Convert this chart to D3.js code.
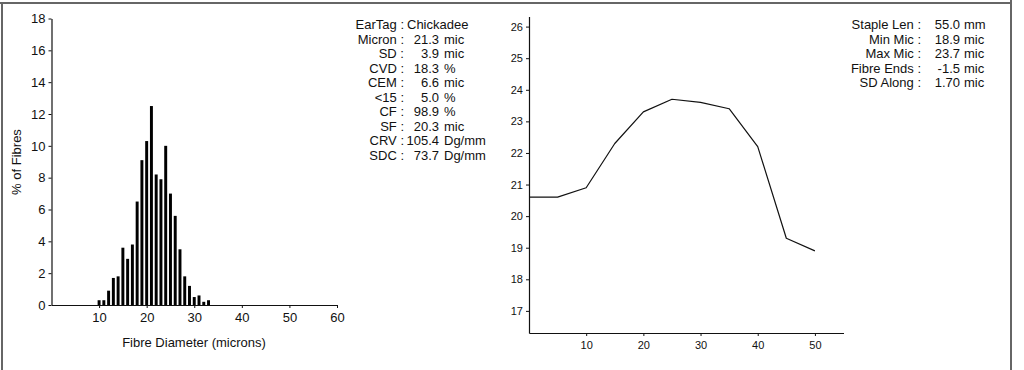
<!DOCTYPE html>
<html>
<head>
<meta charset="utf-8">
<script src="https://cdn.jsdelivr.net/npm/d3@7"></script>
<style>
  body { margin: 0; background: #fff; }
  svg { display: block; font-family: "Liberation Sans", Arial, sans-serif; }
  text { fill: #111; }
</style>
</head>
<body>
<svg id="chart" width="1024" height="370"></svg>
<script>
// histogram: fibre diameter (microns) -> % of fibres
var diameters = [10, 11, 12, 13, 14, 15, 16, 17, 18, 19, 20, 21, 22, 23, 24, 25, 26, 27, 28, 29, 30, 31, 32, 33];
var pctFibres = [0.3, 0.3, 0.9, 1.7, 1.8, 3.6, 2.9, 3.8, 6.5, 9.1, 10.3, 12.5, 8.2, 7.9, 10.0, 7.0, 5.6, 3.5, 1.8, 1.2, 0.5, 0.6, 0.2, 0.3];
var histXTicks = [10, 20, 30, 40, 50, 60];
var histYTicks = [0, 2, 4, 6, 8, 10, 12, 14, 16, 18];

// profile along the staple
var positions = [0, 5, 10, 15, 20, 25, 30, 35, 40, 45, 50];
var micAlong = [20.6, 20.6, 20.9, 22.3, 23.3, 23.7, 23.6, 23.4, 22.2, 19.3, 18.9];
var profXTicks = [10, 20, 30, 40, 50];
var profYTicks = [17, 18, 19, 20, 21, 22, 23, 24, 25, 26];

// summary text
var statLabels = ["EarTag", "Micron", "SD", "CVD", "CEM", "<15", "CF", "SF", "CRV", "SDC"];
var statValues = ["Chickadee", "21.3", "3.9", "18.3", "6.6", "5.0", "98.9", "20.3", "105.4", "73.7"];
var statUnits = ["", "mic", "mic", "%", "mic", "%", "%", "mic", "Dg/mm", "Dg/mm"];

var staLabels = ["Staple Len", "Min Mic", "Max Mic", "Fibre Ends", "SD Along"];
var staValues = ["55.0", "18.9", "23.7", "-1.5", "1.70"];
var staUnits = ["mm", "mic", "mic", "mic", "mic"];

var svg = d3.select("#chart");

// page frame
svg.append("line").attr("x1", 0).attr("x2", 1011).attr("y1", 3).attr("y2", 3)
    .attr("stroke", "#666").attr("stroke-width", 2);
svg.append("line").attr("x1", 2).attr("x2", 2).attr("y1", 3).attr("y2", 370)
    .attr("stroke", "#666").attr("stroke-width", 2);
svg.append("line").attr("x1", 1011).attr("x2", 1011).attr("y1", 0).attr("y2", 370)
    .attr("stroke", "#666").attr("stroke-width", 2);

// ---- histogram ----
var hx = d3.scaleLinear().domain([0, 60]).range([51.5, 337]);
var hy = d3.scaleLinear().domain([0, 18]).range([305, 18.5]);
var barW = (hx(1) - hx(0)) * 0.62;

var hg = svg.append("g");

hg.selectAll("rect.bar")
    .data(diameters)
  .enter().append("rect")
    .attr("class", "bar")
    .attr("x", function(d) { return hx(d) - barW / 2; })
    .attr("width", barW)
    .attr("y", function(d, i) { return hy(pctFibres[i]); })
    .attr("height", function(d, i) { return hy(0) - hy(pctFibres[i]); })
    .attr("fill", "#000");

hg.append("g")
    .attr("transform", "translate(0," + hy(0) + ")")
    .call(d3.axisBottom(hx).tickValues(histXTicks).tickSize(3).tickSizeOuter(0).tickPadding(5))
    .call(styleAxis, 13);

hg.append("g")
    .attr("transform", "translate(" + hx(0) + ",0)")
    .call(d3.axisLeft(hy).tickValues(histYTicks).tickSize(3).tickSizeOuter(0).tickPadding(3))
    .call(styleAxis, 13);

hg.append("text")
    .attr("transform", "translate(21,162) rotate(-90)")
    .attr("text-anchor", "middle")
    .style("font-size", "13px")
    .text("% of Fibres");

hg.append("text")
    .attr("x", 194).attr("y", 347)
    .attr("text-anchor", "middle")
    .style("font-size", "13px")
    .text("Fibre Diameter (microns)");

// next panel's tick label, cut off by the page edge
svg.append("text").attr("x", 45).attr("y", 379)
    .attr("text-anchor", "end").style("font-size", "13px").text("18");

// ---- staple profile ----
var px = d3.scaleLinear().domain([0, 55]).range([529, 843.5]);
var py = d3.scaleLinear().domain([16.3, 26.32]).range([333, 16.5]);

var pg = svg.append("g");

pg.append("g")
    .attr("transform", "translate(0," + py(16.3) + ")")
    .call(d3.axisBottom(px).tickValues(profXTicks).tickSize(3).tickSizeOuter(0).tickPadding(5))
    .call(styleAxis, 11);

pg.append("g")
    .attr("transform", "translate(" + px(0) + ",0)")
    .call(d3.axisLeft(py).tickValues(profYTicks).tickSize(3).tickSizeOuter(0).tickPadding(3))
    .call(styleAxis, 11);

var line = d3.line()
    .x(function(d) { return px(d); })
    .y(function(d, i) { return py(micAlong[i]); });

pg.append("path")
    .datum(positions)
    .attr("fill", "none")
    .attr("stroke", "#111")
    .attr("stroke-width", 1.2)
    .attr("stroke-linejoin", "round")
    .attr("d", line);

// ---- stats blocks ----
var lineH = 14.5, firstLine = 29;

var s1 = svg.append("g").style("font-size", "13px");
statLabels.forEach(function(lab, i) {
  var y = firstLine + i * lineH;
  s1.append("text").attr("x", 404).attr("y", y).attr("text-anchor", "end").text(lab + " :");
  if (i === 0) {
    s1.append("text").attr("x", 407).attr("y", y).text(statValues[i]);
  } else {
    s1.append("text").attr("x", 439).attr("y", y).attr("text-anchor", "end").text(statValues[i]);
    s1.append("text").attr("x", 444).attr("y", y).text(statUnits[i]);
  }
});

var s2 = svg.append("g").style("font-size", "13px");
staLabels.forEach(function(lab, i) {
  var y = firstLine + i * lineH;
  s2.append("text").attr("x", 921).attr("y", y).attr("text-anchor", "end").text(lab + " :");
  s2.append("text").attr("x", 960).attr("y", y).attr("text-anchor", "end").text(staValues[i]);
  s2.append("text").attr("x", 964).attr("y", y).text(staUnits[i]);
});

function styleAxis(sel, size) {
  sel.attr("font-family", null).attr("font-size", null);
  sel.selectAll("text").style("font-size", size + "px").attr("fill", "#111");
  sel.select(".domain").attr("stroke", "#111").attr("stroke-width", 1.2);
  sel.selectAll(".tick line").attr("stroke", "#111");
}
</script>
</body>
</html>
